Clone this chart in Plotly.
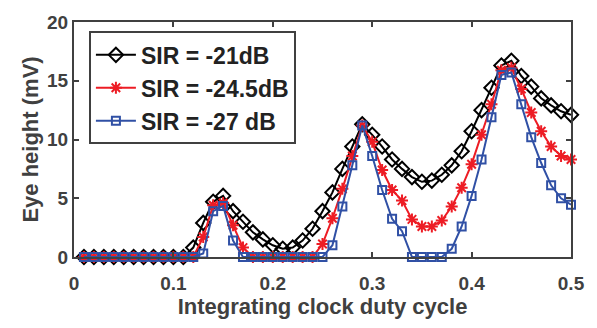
import plotly.graph_objects as go

duty_cycle = [0.01, 0.02, 0.03, 0.04, 0.05, 0.06, 0.07, 0.08, 0.09, 0.10,
              0.11, 0.12, 0.13, 0.14, 0.15, 0.16, 0.17, 0.18, 0.19, 0.20,
              0.21, 0.22, 0.23, 0.24, 0.25, 0.26, 0.27, 0.28, 0.29, 0.30,
              0.31, 0.32, 0.33, 0.34, 0.35, 0.36, 0.37, 0.38, 0.39, 0.40,
              0.41, 0.42, 0.43, 0.44, 0.45, 0.46, 0.47, 0.48, 0.49, 0.50]

eye_sir_21 = [0, 0, 0, 0, 0, 0, 0, 0, 0, 0,
              0, 0.8, 2.9, 4.7, 5.2, 3.9, 3.0, 2.1, 1.5, 1.0,
              0.7, 0.8, 1.4, 2.4, 3.9, 5.5, 7.5, 9.4, 11.3, 10.4,
              9.4, 8.3, 7.5, 6.8, 6.4, 6.5, 7.0, 7.8, 9.0, 10.7,
              12.5, 14.4, 16.3, 16.7, 15.4, 14.5, 13.5, 12.9, 12.4, 12.1]

eye_sir_245 = [0, 0, 0, 0, 0, 0, 0, 0, 0, 0,
               0, 0, 1.7, 4.4, 4.6, 2.7, 0.8, 0, 0, 0,
               0, 0, 0, 0, 1.1, 3.3, 5.8, 8.6, 11.2, 9.8,
               7.4, 5.7, 4.8, 3.2, 2.6, 2.6, 3.1, 4.3, 5.9, 7.9,
               10.4, 13.0, 15.9, 16.1, 14.3, 12.3, 10.7, 9.4, 8.6, 8.3]

eye_sir_27 = [0, 0, 0, 0, 0, 0, 0, 0, 0, 0,
              0, 0, 0.3, 3.9, 4.35, 1.4, 0, 0, 0, 0,
              0, 0, 0, 0, 0, 1.0, 4.3, 7.8, 11.2, 8.6,
              5.7, 3.25, 2.2, 0, 0, 0, 0, 0.7, 2.6, 5.2,
              8.3, 11.9, 15.5, 15.7, 13.0, 10.2, 8.0, 6.1, 5.0, 4.45]

series_names = ["SIR = -21dB", "SIR = -24.5dB", "SIR = -27 dB"]
x_ticks = [0, 0.1, 0.2, 0.3, 0.4, 0.5]
x_tick_labels = ["0", "0.1", "0.2", "0.3", "0.4", "0.5"]
y_ticks = [0, 5, 10, 15, 20]
y_tick_labels = ["0", "5", "10", "15", "20"]

FONT = "Liberation Sans, Arial, Helvetica, sans-serif"
AXC = "#404040"

fig = go.Figure()
fig.add_trace(go.Scatter(
    x=duty_cycle, y=eye_sir_21, name=series_names[0], mode="lines+markers",
    line=dict(color="#000000", width=2),
    marker=dict(symbol="diamond-open", size=11, color="#000000",
                line=dict(width=2, color="#000000")),
    cliponaxis=False))
fig.add_trace(go.Scatter(
    x=duty_cycle, y=eye_sir_245, name=series_names[1], mode="lines+markers",
    line=dict(color="#ED1C24", width=2),
    marker=dict(symbol="asterisk-open", size=10, color="#ED1C24",
                line=dict(width=2, color="#ED1C24")),
    cliponaxis=False))
fig.add_trace(go.Scatter(
    x=duty_cycle, y=eye_sir_27, name=series_names[2], mode="lines+markers",
    line=dict(color="#3050A5", width=2),
    marker=dict(symbol="square-open", size=8, color="#3050A5",
                line=dict(width=2, color="#3050A5")),
    cliponaxis=False))

fig.update_layout(
    width=597, height=328,
    margin=dict(l=74, r=22, t=15, b=71),
    paper_bgcolor="white", plot_bgcolor="white",
    font=dict(family=FONT, color=AXC, size=19, weight="bold"),
    showlegend=True,
    legend=dict(
        x=0.03, y=0.96, xanchor="left", yanchor="top",
        bgcolor="white", bordercolor=AXC, borderwidth=2,
        font=dict(family=FONT, size=23, color="#222222", weight="bold"),
        itemwidth=40,
    ),
)
fig.update_xaxes(
    range=[0, 0.5], tickvals=x_ticks, ticktext=x_tick_labels,
    showgrid=False, zeroline=False,
    showline=True, linecolor=AXC, linewidth=2, mirror="ticks",
    ticks="inside", ticklen=5, tickwidth=2, tickcolor=AXC,
    ticklabelstandoff=8,
    tickfont=dict(family=FONT, size=19, color=AXC, weight="bold"),
    title=dict(text="Integrating clock duty cycle", standoff=4,
               font=dict(family=FONT, size=22, color=AXC, weight="bold")),
)
fig.update_yaxes(
    range=[0, 20], tickvals=y_ticks, ticktext=y_tick_labels,
    showgrid=False, zeroline=False,
    showline=True, linecolor=AXC, linewidth=2, mirror="ticks",
    ticks="inside", ticklen=5, tickwidth=2, tickcolor=AXC,
    tickfont=dict(family=FONT, size=19, color=AXC, weight="bold"),
    title=dict(text="Eye height (mV)", standoff=2,
               font=dict(family=FONT, size=22, color=AXC, weight="bold")),
)

# remove the browser's default 8px body margin so the figure sits at (0, 0)
fig.write_html("out.html",
               config={"displayModeBar": False},
               post_script="document.body.style.margin='0';")
